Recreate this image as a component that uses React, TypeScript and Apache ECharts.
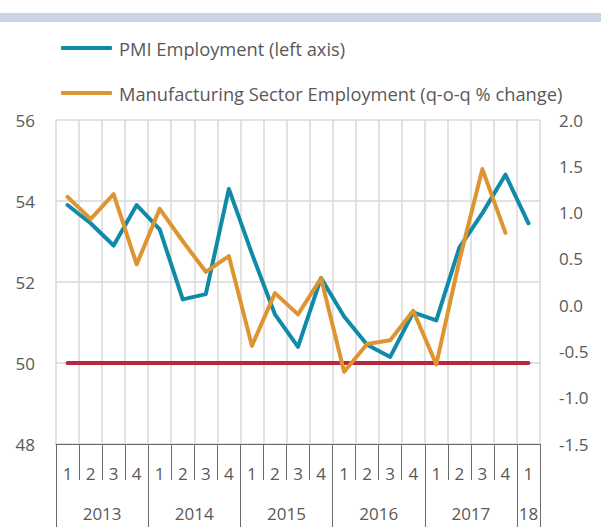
import React, { useEffect, useRef } from "react";
import * as echarts from "echarts";

const quarters = ["1","2","3","4","1","2","3","4","1","2","3","4","1","2","3","4","1","2","3","4","1"];
const years = ["2013", "2014", "2015", "2016", "2017", "18"];
const quartersPerYear = [4, 4, 4, 4, 4, 1];
const pmiEmployment = [53.9, 53.45, 52.9, 53.9, 53.3, 51.57, 51.7, 54.3, 52.7, 51.2, 50.4, 52.1, 51.15, 50.45, 50.15, 51.25, 51.05, 52.85, 53.7, 54.65, 53.45];
const mfgEmployment = [1.17, 0.93, 1.2, 0.44, 1.04, 0.69, 0.36, 0.53, -0.44, 0.13, -0.1, 0.29, -0.72, -0.42, -0.38, -0.06, -0.64, 0.48, 1.47, 0.78, null];
const referenceLevel = quarters.map(() => 50);
const leftTicks = { min: 48, max: 56, interval: 2 };
const rightTicks = { min: -1.5, max: 2.0, interval: 0.5 };

const FONT = "Open Sans";
const TEXT = "#595959";

export default function App() {
  const ref = useRef<HTMLDivElement>(null);
  useEffect(() => {
    if (!ref.current) return;
    const chart = echarts.init(ref.current, null, { renderer: "svg" });
    const bounds: number[] = [0];
    const centers: number[] = [];
    quartersPerYear.forEach((n) => {
      const start = bounds[bounds.length - 1];
      centers.push(start + n / 2);
      bounds.push(start + n);
    });
    chart.setOption({
      animation: false,
      backgroundColor: "#ffffff",
      textStyle: { fontFamily: FONT },
      graphic: [
        { type: "rect", shape: { x: 0, y: 13, width: 601, height: 9 }, style: { fill: "#c9d5e3" } },
      ],
      legend: {
        orient: "vertical",
        left: 56,
        top: 33,
        icon: "roundRect",
        itemWidth: 51,
        itemHeight: 4,
        itemGap: 25,
        data: ["PMI Employment (left axis)", "Manufacturing Sector Employment (q-o-q % change)"],
        textStyle: { fontFamily: FONT, fontSize: 18.3, color: TEXT, lineHeight: 20, padding: [0, 0, 0, 2] },
      },
      grid: { left: 56, right: 61, top: 120, bottom: 83, containLabel: false },
      xAxis: [
        {
          type: "category",
          data: quarters,
          boundaryGap: true,
          axisLine: { show: true, onZero: false, lineStyle: { color: "#6b6b6b", width: 1 } },
          axisTick: { show: true, interval: 0, length: 36, lineStyle: { color: "#6b6b6b" } },
          axisLabel: { interval: 0, margin: 21, fontSize: 17, color: TEXT, fontFamily: FONT },
          splitLine: { show: true, interval: 0, lineStyle: { color: "#d9d9d9", width: 1.5 } },
        },
        {
          type: "value",
          min: 0,
          max: quarters.length,
          position: "bottom",
          axisLine: { show: false, onZero: false },
          axisTick: { show: true, customValues: bounds, length: 83, lineStyle: { color: "#6b6b6b" } },
          axisLabel: {
            show: true,
            customValues: centers,
            margin: 61,
            fontSize: 17,
            color: TEXT,
            fontFamily: FONT,
            formatter: (v: number) => {
              const i = centers.findIndex((c) => Math.abs(c - v) < 1e-6);
              return i >= 0 ? years[i] : "";
            },
          },
          splitLine: { show: false },
        },
      ],
      yAxis: [
        {
          type: "value",
          ...leftTicks,
          axisLine: { show: false },
          axisTick: { show: false },
          axisLabel: { margin: 21, fontSize: 17, color: TEXT, fontFamily: FONT },
          splitLine: { show: true, lineStyle: { color: "#d9d9d9", width: 1.5 } },
        },
        {
          type: "value",
          position: "right",
          ...rightTicks,
          axisLine: { show: false },
          axisTick: { show: false },
          axisLabel: { margin: 19, fontSize: 17, color: TEXT, fontFamily: FONT, formatter: (v: number) => v.toFixed(1) },
          splitLine: { show: false },
        },
      ],
      series: [
        {
          name: "ref50",
          type: "line",
          data: referenceLevel,
          yAxisIndex: 0,
          xAxisIndex: 0,
          symbol: "none",
          lineStyle: { color: "#b8273c", width: 4, cap: "round" },
          itemStyle: { color: "#b8273c" },
          silent: true,
          z: 1,
        },
        {
          name: "PMI Employment (left axis)",
          type: "line",
          data: pmiEmployment,
          yAxisIndex: 0,
          xAxisIndex: 0,
          symbol: "none",
          lineStyle: { color: "#0f8aa8", width: 4, cap: "round", join: "round" },
          itemStyle: { color: "#0f8aa8" },
          z: 3,
        },
        {
          name: "Manufacturing Sector Employment (q-o-q % change)",
          type: "line",
          data: mfgEmployment,
          yAxisIndex: 1,
          xAxisIndex: 0,
          symbol: "none",
          connectNulls: false,
          lineStyle: { color: "#de9431", width: 4, cap: "round", join: "round" },
          itemStyle: { color: "#de9431" },
          z: 4,
        },
      ],
    });
    return () => chart.dispose();
  }, []);
  return <div ref={ref} style={{ position: "fixed", left: 0, top: 0, width: 601, height: 527 }} />;
}
